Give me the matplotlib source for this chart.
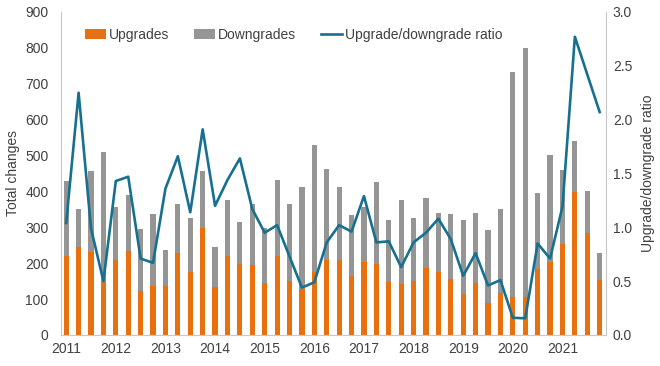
import matplotlib
matplotlib.use("Agg")
from matplotlib import pyplot as plt
import numpy as np

plt.rcParams["font.family"] = ["Liberation Sans", "DejaVu Sans"]

# Quarterly data, 2011 Q1 - 2021 Q4
years = ["2011", "2012", "2013", "2014", "2015", "2016",
         "2017", "2018", "2019", "2020", "2021"]
upgrades = [220, 244, 231, 149, 209, 233, 122, 137, 137, 229, 175, 299,
            133, 220, 197, 195, 146, 220, 150, 127, 175, 210, 208, 164,
            202, 197, 149, 142, 150, 186, 176, 157, 114, 146, 90, 118,
            107, 107, 183, 202, 253, 398, 283, 153]
totals = [429, 352, 456, 511, 357, 391, 296, 336, 237, 364, 327, 456,
          246, 376, 316, 364, 298, 433, 366, 412, 528, 463, 412, 333,
          357, 426, 320, 376, 327, 382, 341, 336, 320, 339, 293, 350,
          734, 801, 397, 502, 460, 541, 400, 228]
ratio = [1.04, 2.25, 0.99, 0.50, 1.43, 1.47, 0.71, 0.67, 1.36, 1.66, 1.14, 1.91,
         1.20, 1.44, 1.64, 1.17, 0.95, 1.02, 0.73, 0.44, 0.49, 0.86, 1.02, 0.96,
         1.29, 0.86, 0.87, 0.63, 0.86, 0.95, 1.08, 0.89, 0.55, 0.76, 0.46, 0.51,
         0.16, 0.155, 0.85, 0.71, 1.19, 2.77, 2.42, 2.07]

downgrades = [t - u for t, u in zip(totals, upgrades)]
x = np.arange(len(upgrades))

orange = "#E8700E"
grey = "#959595"
teal = "#17708F"
text_c = "#404040"
spine_c = "#C8C8C8"

fig = plt.figure(figsize=(6.6, 3.66), dpi=100)
ax = fig.add_axes([0.0924, 0.0847, 0.8256, 0.8826])
ax2 = ax.twinx()

ax.bar(x, upgrades, width=0.42, color=orange, label="Upgrades", zorder=2)
ax.bar(x, downgrades, width=0.42, bottom=upgrades, color=grey,
       label="Downgrades", zorder=2)
ax2.plot(x, ratio, color=teal, linewidth=1.9, label="Upgrade/downgrade ratio")

ax.set_xlim(-0.42, 43.5)
ax.set_ylim(0, 900)
ax.set_yticks(range(0, 901, 100))
ax2.set_ylim(0, 3.0)
ax2.set_yticks(np.arange(0, 3.01, 0.5))
ax2.set_yticklabels([f"{v:.1f}" for v in np.arange(0, 3.01, 0.5)])

ax.set_xticks(x[::4])
ax.set_xticklabels(years)

for a in (ax, ax2):
    a.tick_params(length=0, labelsize=10, colors=text_c, pad=5)
    for s in a.spines.values():
        s.set_visible(False)
ax.tick_params(axis="y", pad=9)
ax.spines["left"].set_visible(True)
ax.spines["bottom"].set_visible(True)
ax2.spines["right"].set_visible(True)
ax.spines["left"].set_color(spine_c)
ax.spines["bottom"].set_color(spine_c)
ax2.spines["right"].set_color(spine_c)

ax.set_ylabel("Total changes", fontsize=10, color=text_c, labelpad=4)
ax2.set_ylabel("Upgrade/downgrade ratio", fontsize=10, color=text_c, labelpad=6)

h1, l1 = ax.get_legend_handles_labels()
h2, l2 = ax2.get_legend_handles_labels()
ax2.legend(h1 + h2, l1 + l2, loc="center", bbox_to_anchor=(0.427, 0.93),
           ncol=3, frameon=False, fontsize=10, handlelength=1.5,
           handletextpad=0.2, columnspacing=1.8, labelcolor=text_c)

fig.savefig("out.png", dpi=100)
